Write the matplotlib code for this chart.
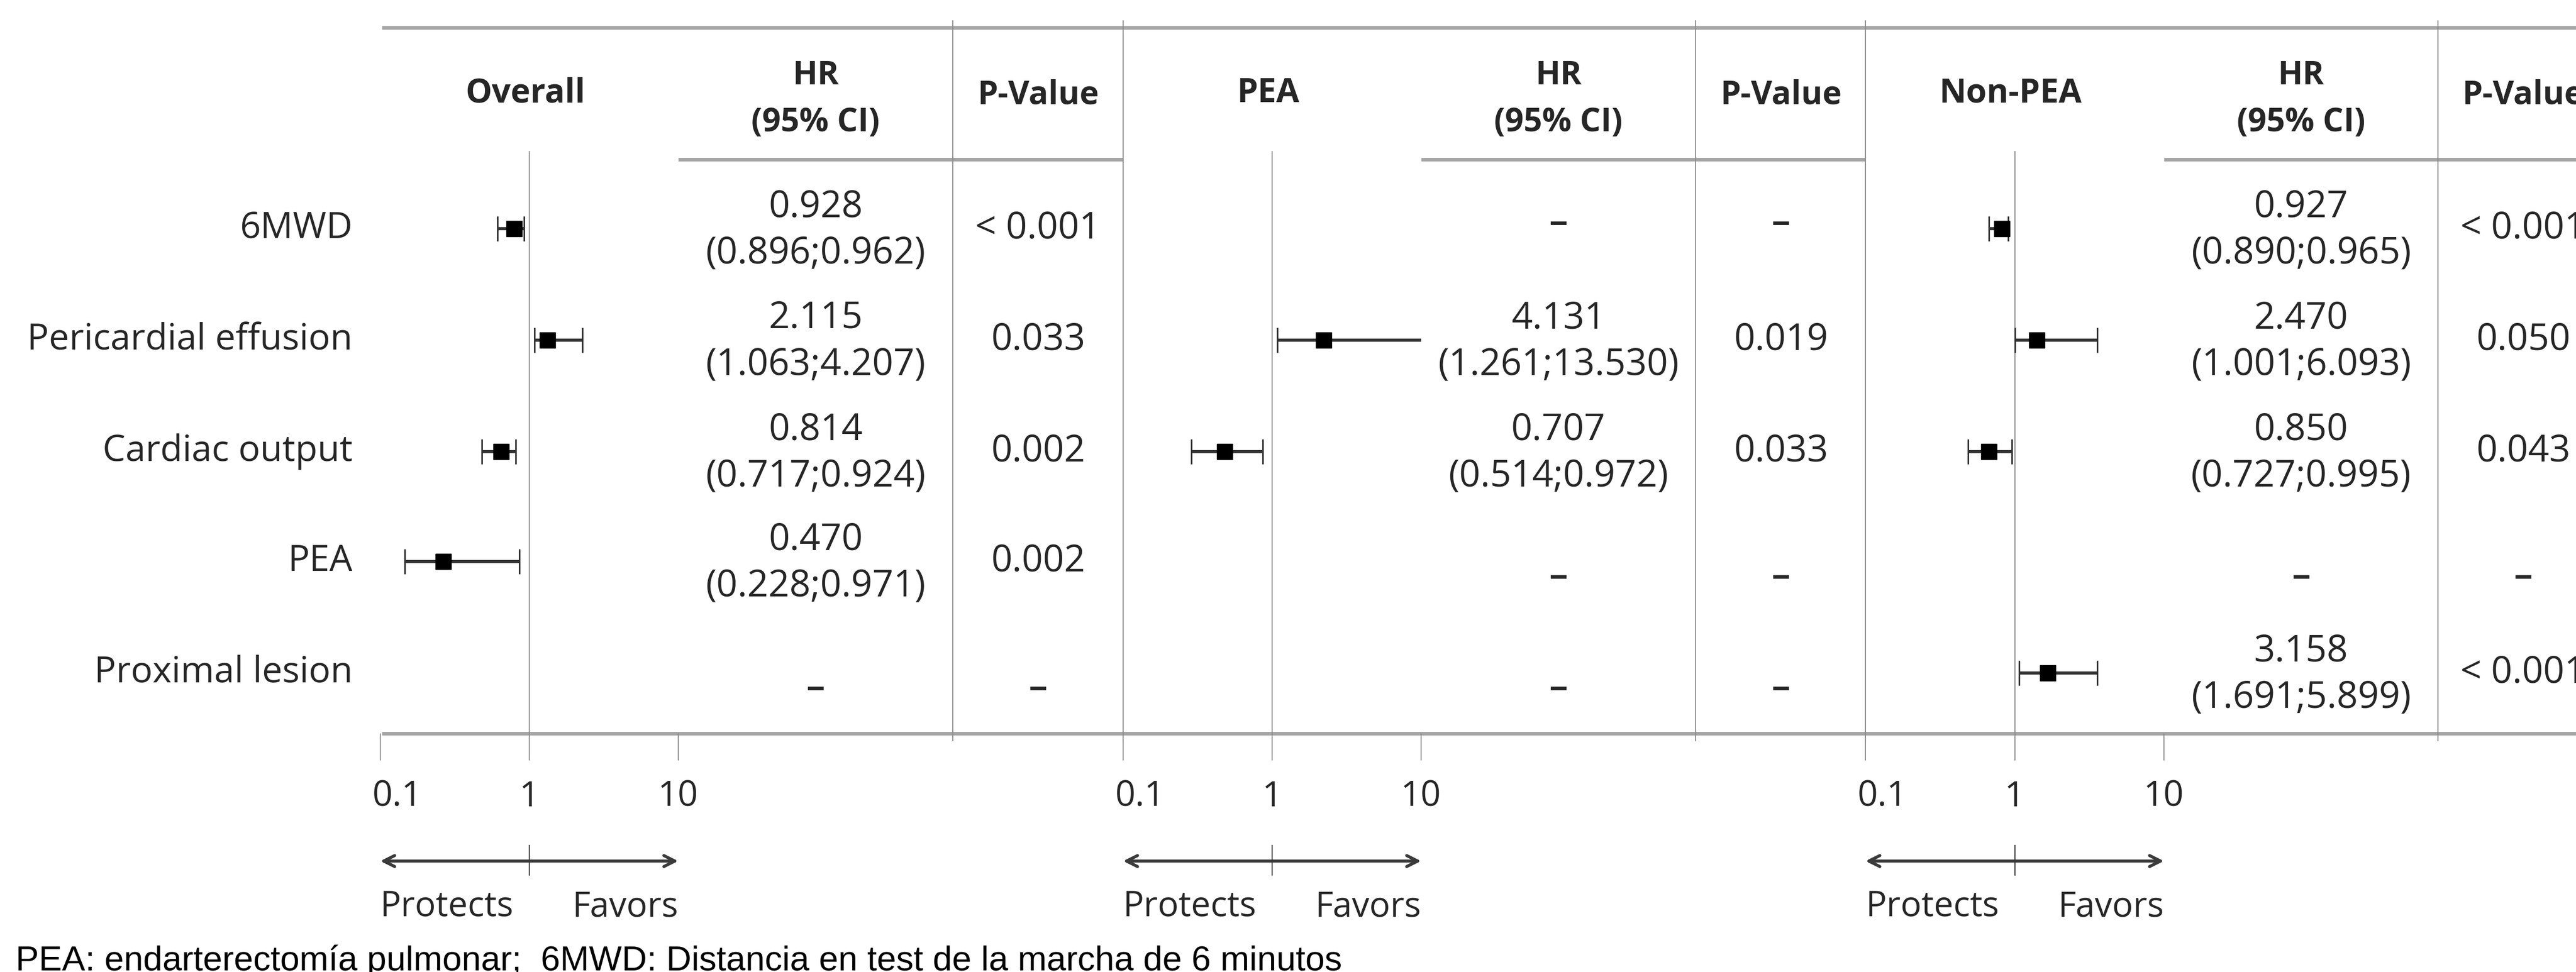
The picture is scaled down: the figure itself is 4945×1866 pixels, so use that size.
import numpy as np
import matplotlib
matplotlib.use("Agg")
import matplotlib.pyplot as plt
from matplotlib.ticker import NullLocator
from matplotlib.transforms import blended_transform_factory, ScaledTranslation

# ======= data =======
rows = ["6MWD", "Pericardial effusion", "Cardiac output", "PEA", "Proximal lesion"]
panels = ["Overall", "PEA", "Non-PEA"]

# table text (None -> "–")
overall_hr = ["0.928", "2.115", "0.814", "0.470", None]
overall_ci = ["(0.896;0.962)", "(1.063;4.207)", "(0.717;0.924)", "(0.228;0.971)", None]
overall_p = ["< 0.001", "0.033", "0.002", "0.002", None]

pea_hr = [None, "4.131", "0.707", None, None]
pea_ci = [None, "(1.261;13.530)", "(0.514;0.972)", None, None]
pea_p = [None, "0.019", "0.033", None, None]

nonpea_hr = ["0.927", "2.470", "0.850", None, "3.158"]
nonpea_ci = ["(0.890;0.965)", "(1.001;6.093)", "(0.727;0.995)", None, "(1.691;5.899)"]
nonpea_p = ["< 0.001", "0.050", "0.043", None, "< 0.001"]

# marks as drawn in the figure (NaN = no mark)
overall_pt = [0.79, 1.33, 0.65, 0.265, np.nan]
overall_lo = [0.61, 1.08, 0.48, 0.146, np.nan]
overall_hi = [0.92, 2.28, 0.81, 0.86, np.nan]

pea_pt = [np.nan, 2.22, 0.48, np.nan, np.nan]
pea_lo = [np.nan, 1.08, 0.287, np.nan, np.nan]
pea_hi = [np.nan, 10.4, 0.865, np.nan, np.nan]

nonpea_pt = [0.824, 1.41, 0.674, np.nan, 1.67]
nonpea_lo = [0.674, 1.0, 0.489, np.nan, 1.075]
nonpea_hi = [0.908, 3.57, 0.96, np.nan, 3.57]

tick_vals = [0.1, 1, 10]
tick_labels = ["0.1", "1", "10"]
footnote = "PEA: endarterectomía pulmonar;  6MWD: Distancia en test de la marcha de 6 minutos"

# ======= layout (pixels of the 4945x1866 canvas) =======
W, H, DPI = 4945, 1866, 100
X01 = [730, 2156, 3581]       # position of 0.1
X10 = [1302, 2728, 4154]      # position of 10
SEP = [1829, 3255, 4680]      # line between HR and P-value
NXT = [2156, 3581, W]         # end of panel
TOP_Y, HEAD_Y, BOT_Y, REF_TOP = 53, 306, 1408, 290
ROW_Y = [439, 653, 867, 1078, 1292]
DASH_DY = [-10, 0, 0, 30, 30]
TXT = "#262626"
THICK = "#a5a5a5"
THIN = "#8c8c8c"

plt.rcParams["font.family"] = ["Open Sans", "DejaVu Sans"]

fig = plt.figure(figsize=(W / DPI, H / DPI), dpi=DPI)
bg = fig.add_axes([0, 0, 1, 1])
bg.set_xlim(0, W)
bg.set_ylim(H, 0)
bg.axis("off")

# frame lines
bg.plot([733, W], [TOP_Y, TOP_Y], color=THICK, lw=5, solid_capstyle="butt")
bg.plot([733, W], [BOT_Y, BOT_Y], color=THICK, lw=5, solid_capstyle="butt")
for i in range(3):
    bg.plot([X10[i], NXT[i]], [HEAD_Y, HEAD_Y], color=THICK, lw=5, solid_capstyle="butt")
    for xs in (SEP[i], NXT[i]):
        if xs < W:
            bg.plot([xs, xs], [40, 1422], color=THIN, lw=1.5)

# row labels
for y, lab in zip(ROW_Y, rows):
    bg.text(677, y, lab, ha="right", va="center", fontsize=50, color=TXT)

panel_data = [
    (overall_hr, overall_ci, overall_p, overall_pt, overall_lo, overall_hi),
    (pea_hr, pea_ci, pea_p, pea_pt, pea_lo, pea_hi),
    (nonpea_hr, nonpea_ci, nonpea_p, nonpea_pt, nonpea_lo, nonpea_hi),
]

for i, name in enumerate(panels):
    hr, ci, pv, pt, lo, hi = panel_data[i]
    hr_cx = (X10[i] + SEP[i]) / 2
    p_cx = SEP[i] + (NXT[0] - SEP[0]) / 2

    # headers
    x1 = X01[i] + (X10[i] - X01[i]) / 2
    bg.text(x1 - 8, 180, name, ha="center", va="center", fontsize=46, fontweight="bold", color=TXT)
    bg.text(hr_cx, 146, "HR", ha="center", va="center", fontsize=45, fontweight="bold", color=TXT)
    bg.text(hr_cx, 236, "(95% CI)", ha="center", va="center", fontsize=45, fontweight="bold", color=TXT)
    bg.text(p_cx, 183, "P-Value", ha="center", va="center", fontsize=45, fontweight="bold", color=TXT)

    # table values
    for r, y in enumerate(ROW_Y):
        if hr[r] is None:
            bg.text(hr_cx, y + DASH_DY[r], "–", ha="center", va="center", fontsize=52,
                    fontweight="semibold", color=TXT)
            bg.text(p_cx, y + DASH_DY[r], "–", ha="center", va="center", fontsize=52,
                    fontweight="semibold", color=TXT)
        else:
            bg.text(hr_cx, y - 41, hr[r], ha="center", va="center", fontsize=51, color=TXT)
            bg.text(hr_cx, y + 48, ci[r], ha="center", va="center", fontsize=51, color=TXT)
            bg.text(p_cx, y, pv[r], ha="center", va="center", fontsize=51, color=TXT)

    # forest axis
    ax = fig.add_axes([X01[i] / W, 1 - BOT_Y / H, (X10[i] - X01[i]) / W, (BOT_Y - REF_TOP) / H])
    ax.set_xscale("log")
    ax.set_xlim(0.1, 10)
    ax.set_ylim(BOT_Y, REF_TOP)
    ax.patch.set_visible(False)
    for s in ax.spines.values():
        s.set_visible(False)
    ax.set_yticks([])
    ax.set_xticks(tick_vals)
    ax.set_xticklabels(tick_labels)
    ax.xaxis.set_minor_locator(NullLocator())
    ax.tick_params(axis="x", length=37.4, width=1.4, color=THIN, pad=26,
                   labelsize=49, labelcolor=TXT)
    # the 0.1 label sits a little right of its tick
    lab01 = ax.get_xticklabels()[0]
    lab01.set_transform(lab01.get_transform() + ScaledTranslation(32 / DPI, 0, fig.dpi_scale_trans))
    ax.axvline(1, color=THIN, lw=1.4)

    y = np.array(ROW_Y, dtype=float)
    pt, lo, hi = np.array(pt), np.array(lo), np.array(hi)
    ok = ~np.isnan(pt)
    ax.errorbar(pt[ok], y[ok], xerr=[pt[ok] - lo[ok], hi[ok] - pt[ok]], fmt="s",
                ms=21, mfc="black", mec="black", ecolor="#333333", elinewidth=4.3,
                capsize=17, capthick=2.2, zorder=3)

    # protects / favors arrow
    trans = blended_transform_factory(ax.transData, bg.transData)
    ax.annotate("", xy=(0.1, 1653), xytext=(10, 1653), xycoords=trans, textcoords=trans,
                arrowprops=dict(arrowstyle="<->", lw=4.2, color="#3a3a3a",
                                mutation_scale=38, shrinkA=0, shrinkB=0),
                annotation_clip=False)
    ax.plot([1, 1], [1623, 1680], transform=trans, color="#333333", lw=1.4, clip_on=False)
    ax.text(0.1, 1742, "Protects", transform=trans, ha="left", va="center", fontsize=48, color=TXT)
    ax.text(10, 1742, "Favors", transform=trans, ha="right", va="center", fontsize=48, color=TXT)

bg.text(30, 1863, footnote, ha="left", va="baseline", fontsize=48, color="black",
        family=["Liberation Sans", "DejaVu Sans"])

fig.savefig("out.png", dpi=DPI, facecolor="white")
